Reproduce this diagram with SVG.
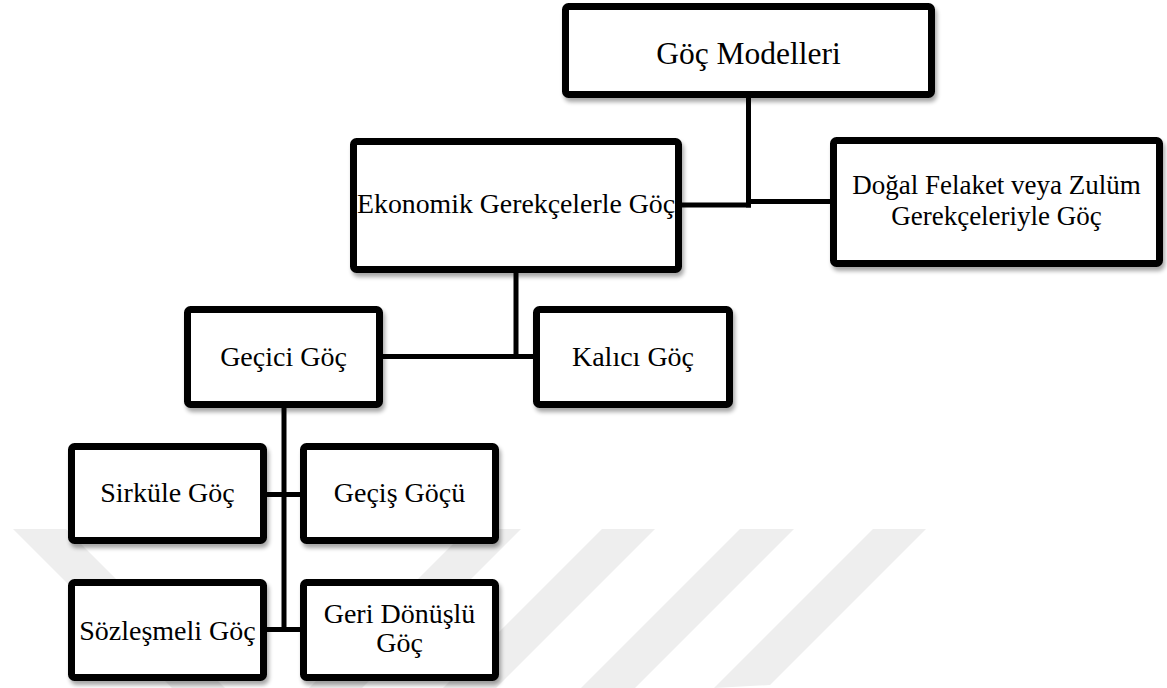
<svg xmlns="http://www.w3.org/2000/svg" width="1167" height="688" viewBox="0 0 1167 688">
<style>
.box{fill:#ffffff;stroke:#000000;stroke-width:7;filter:url(#sh)}
.lbl{font-family:"Liberation Serif","Times New Roman",serif;font-size:28px;fill:#000000;text-anchor:middle}
.con{stroke:#000000;stroke-width:5;fill:none}
.wm{fill:#eeeeee}
</style>
<defs>
<filter id="sh" x="-10%" y="-10%" width="125%" height="130%">
<feGaussianBlur in="SourceAlpha" stdDeviation="2"/>
<feOffset dx="2" dy="4" result="b"/>
<feComponentTransfer><feFuncA type="linear" slope="0.35"/></feComponentTransfer>
<feMerge><feMergeNode/><feMergeNode in="SourceGraphic"/></feMerge>
</filter>
</defs>
<rect width="1167" height="688" fill="#ffffff"/>
<g id="watermark">
<polygon class="wm" points="13,529 66,529 225,688 172,688"/>
<polygon class="wm" points="468,529 521,529 362,688 309,688"/>
<polygon class="wm" points="602,529 655,529 496,688 443,688"/>
<polygon class="wm" points="740,529 794,529 635,688 581,688"/>
<polygon class="wm" points="873,529 926,529 770,685 714,688"/>
</g>
<g id="connectors">
<path class="con" d="M748.5,98 V207.5"/>
<path class="con" d="M682,205 H751"/>
<path class="con" d="M746,201.5 H830"/>
<path class="con" d="M516,273 V359"/>
<path class="con" d="M383,356.5 H533"/>
<path class="con" d="M284,408 V632"/>
<path class="con" d="M267,494.5 H300"/>
<path class="con" d="M267,629.5 H300"/>
</g>
<g id="n-gocmodelleri">
<rect class="box" x="565.5" y="6.5" width="366" height="88" rx="3"/>
<text class="lbl" x="748.5" y="64" style="font-size:31.5px">Göç Modelleri</text>
</g>
<g id="n-ekonomik">
<rect class="box" x="353.5" y="141.5" width="325" height="128" rx="3"/>
<text class="lbl" x="516" y="213" style="font-size:27.8px">Ekonomik Gerekçelerle Göç</text>
</g>
<g id="n-dogal">
<rect class="box" x="833.5" y="140.5" width="326" height="123" rx="3"/>
<text class="lbl" x="996.5" y="194" style="font-size:27px">Doğal Felaket veya Zulüm</text>
<text class="lbl" x="996.5" y="225" style="font-size:27px">Gerekçeleriyle Göç</text>
</g>
<g id="n-gecici">
<rect class="box" x="187.5" y="309.5" width="192" height="95" rx="3"/>
<text class="lbl" x="283.5" y="366">Geçici Göç</text>
</g>
<g id="n-kalici">
<rect class="box" x="536.5" y="309.5" width="193" height="95" rx="3"/>
<text class="lbl" x="633" y="366">Kalıcı Göç</text>
</g>
<g id="n-sirkule">
<rect class="box" x="71.5" y="446.5" width="192" height="94" rx="3"/>
<text class="lbl" x="167.5" y="502">Sirküle Göç</text>
</g>
<g id="n-gecis">
<rect class="box" x="303.5" y="446.5" width="192" height="94" rx="3"/>
<text class="lbl" x="399.5" y="502">Geçiş Göçü</text>
</g>
<g id="n-sozlesmeli">
<rect class="box" x="71.5" y="582.5" width="192" height="95" rx="3"/>
<text class="lbl" x="167.5" y="640">Sözleşmeli Göç</text>
</g>
<g id="n-geridonuslu">
<rect class="box" x="303.5" y="582.5" width="192" height="95" rx="3"/>
<text class="lbl" x="399.5" y="623">Geri Dönüşlü</text>
<text class="lbl" x="399.5" y="652">Göç</text>
</g>
</svg>
